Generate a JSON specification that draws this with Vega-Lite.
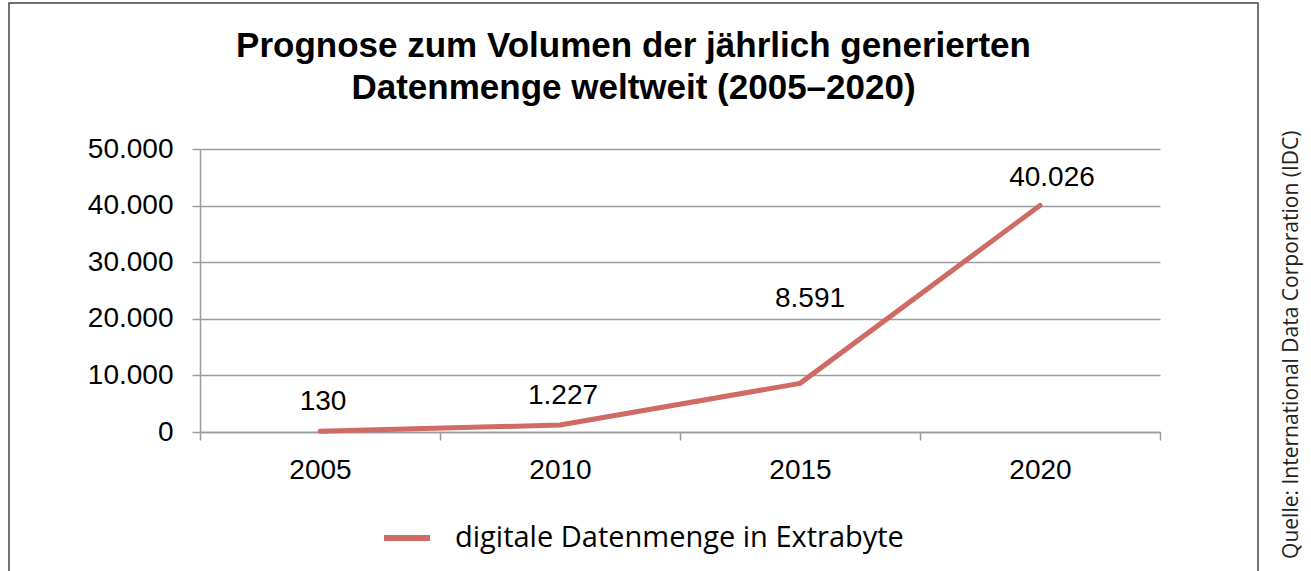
{
  "$schema": "https://vega.github.io/schema/vega-lite/v6.json",
  "width": 1249,
  "height": 568,
  "autosize": {"type": "none"},
  "padding": {"left": 9, "top": 3, "right": 53, "bottom": 0},
  "background": "white",
  "title": {
    "text": ["Prognose zum Volumen der jährlich generierten", "Datenmenge weltweit (2005–2020)"],
    "font": "Liberation Sans",
    "fontSize": 35,
    "fontWeight": "bold",
    "color": "black",
    "lineHeight": 42,
    "anchor": "middle",
    "frame": "group",
    "baseline": "alphabetic",
    "offset": -131
  },
  "data": {
    "values": [
      {"year": 2005, "value": 130, "series": "digitale Datenmenge in Extrabyte"},
      {"year": 2010, "value": 1227, "series": "digitale Datenmenge in Extrabyte"},
      {"year": 2015, "value": 8591, "series": "digitale Datenmenge in Extrabyte"},
      {"year": 2020, "value": 40026, "series": "digitale Datenmenge in Extrabyte"}
    ]
  },
  "layer": [
    {
      "mark": {"type": "line", "strokeWidth": 5, "strokeCap": "round", "strokeJoin": "round"},
      "encoding": {
        "x": {
          "field": "year", "type": "quantitative",
          "scale": {"domain": [2002.5, 2022.5], "range": [191, 1151], "nice": false, "zero": false},
          "axis": {
            "orient": "bottom", "offset": -139, "title": null,
            "values": [2002.5, 2005, 2007.5, 2010, 2012.5, 2015, 2017.5, 2020, 2022.5],
            "format": "d",
            "labelExpr": "datum.value % 5 == 0 ? datum.label : ''",
            "tickOpacity": {"condition": {"test": "datum.value % 5 == 0", "value": 0}, "value": 1},
            "grid": false,
            "domain": true, "domainColor": "#9b9ca0", "domainWidth": 1.5,
            "ticks": true, "tickSize": 8, "tickColor": "#9b9ca0", "tickWidth": 1.5,
            "labelFont": "Liberation Sans", "labelFontSize": 28, "labelColor": "black",
            "labelPadding": 16, "labelOverlap": false, "labelFlush": false, "labelBound": false
          }
        },
        "y": {
          "field": "value", "type": "quantitative",
          "scale": {"domain": [0, 50000], "range": [429, 146], "nice": false, "zero": false},
          "axis": {
            "orient": "left", "offset": -191, "title": null,
            "values": [0, 10000, 20000, 30000, 40000, 50000],
            "format": ",d",
            "grid": true, "gridColor": "#9b9ca0", "gridWidth": 1.5,
            "domain": true, "domainColor": "#9b9ca0", "domainWidth": 1.5,
            "ticks": true, "tickSize": 8, "tickColor": "#9b9ca0", "tickWidth": 1.5,
            "labelFont": "Liberation Sans", "labelFontSize": 28, "labelColor": "black",
            "labelPadding": 19, "labelOverlap": false, "labelFlush": false, "labelBound": false
          }
        },
        "color": {
          "field": "series", "type": "nominal",
          "scale": {"range": ["#CF6A64"]},
          "legend": {
            "orient": "none", "legendX": 372, "legendY": 509,
            "title": null,
            "symbolType": "stroke", "symbolSize": 2116, "symbolStrokeWidth": 6,
            "labelFont": "Open Sans", "labelFontSize": 29, "labelColor": "black",
            "labelOffset": 22, "labelLimit": 800
          }
        }
      }
    },
    {
      "transform": [{"filter": "datum.year <= 2010"}],
      "mark": {"type": "text", "font": "Liberation Sans", "fontSize": 28, "color": "black", "baseline": "middle", "align": "center", "dy": -29, "dx": 3},
      "encoding": {
        "x": {"field": "year", "type": "quantitative", "scale": {"domain": [2002.5, 2022.5], "range": [191, 1151], "nice": false, "zero": false}, "axis": null},
        "y": {
          "field": "value", "type": "quantitative",
          "scale": {"domain": [0, 50000], "range": [429, 146], "nice": false, "zero": false},
          "axis": {
            "orient": "right", "domain": false, "ticks": false, "labels": false, "grid": false,
            "title": "Quelle: International Data Corporation (IDC)",
            "titleFont": "Open Sans", "titleFontSize": 21, "titleFontWeight": "normal", "titleColor": "#222",
            "titleAngle": 270, "titleAlign": "right", "titleBaseline": "middle",
            "titleX": 33, "titleY": 127
          }
        },
        "text": {"field": "value", "type": "quantitative", "format": ",d"}
      }
    },
    {
      "transform": [{"filter": "datum.year == 2015"}],
      "mark": {"type": "text", "font": "Liberation Sans", "fontSize": 28, "color": "black", "baseline": "middle", "align": "center", "dy": -84, "dx": 10},
      "encoding": {
        "x": {"field": "year", "type": "quantitative", "scale": {"domain": [2002.5, 2022.5], "range": [191, 1151], "nice": false, "zero": false}, "axis": null},
        "y": {"field": "value", "type": "quantitative", "scale": {"domain": [0, 50000], "range": [429, 146], "nice": false, "zero": false}, "axis": null},
        "text": {"field": "value", "type": "quantitative", "format": ",d"}
      }
    },
    {
      "transform": [{"filter": "datum.year == 2020"}],
      "mark": {"type": "text", "font": "Liberation Sans", "fontSize": 28, "color": "black", "baseline": "middle", "align": "center", "dy": -27, "dx": 12},
      "encoding": {
        "x": {"field": "year", "type": "quantitative", "scale": {"domain": [2002.5, 2022.5], "range": [191, 1151], "nice": false, "zero": false}, "axis": null},
        "y": {"field": "value", "type": "quantitative", "scale": {"domain": [0, 50000], "range": [429, 146], "nice": false, "zero": false}, "axis": null},
        "text": {"field": "value", "type": "quantitative", "format": ",d"}
      }
    }
  ],
  "resolve": {"axis": {"x": "independent", "y": "independent"}, "scale": {"y": "shared", "x": "shared"}},
  "config": {
    "font": "Liberation Sans",
    "locale": {"number": {"decimal": ",", "thousands": ".", "grouping": [3], "currency": ["", " €"]}},
    "view": {"stroke": "#444444", "strokeWidth": 1.5, "strokeDash": [1817, 1249, 568]}
  }
}
